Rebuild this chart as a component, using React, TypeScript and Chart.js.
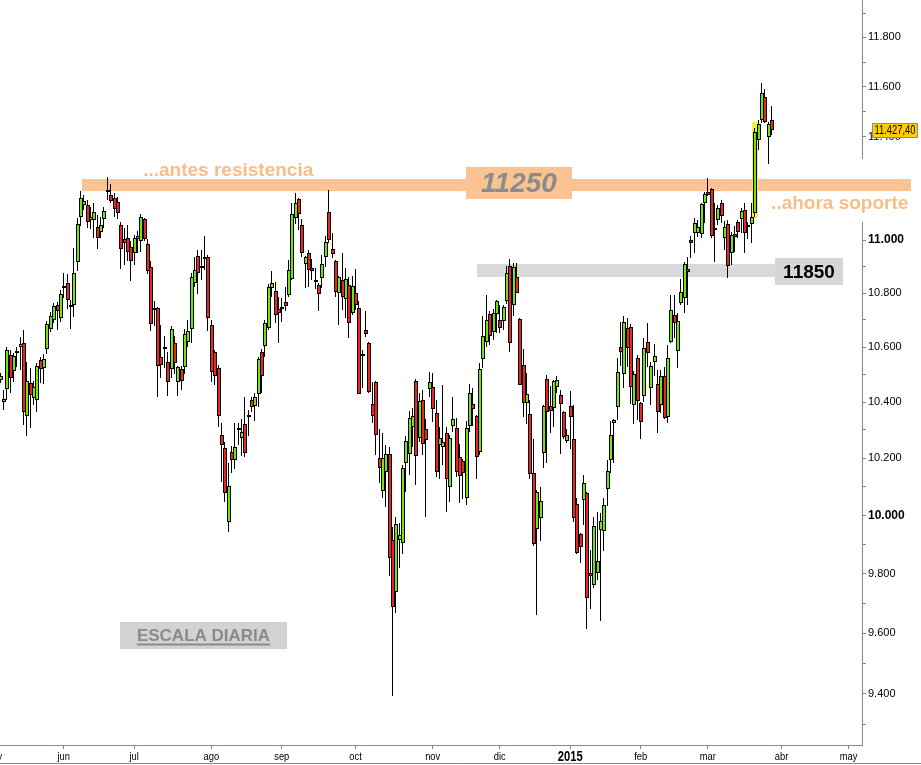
import React, { useEffect, useRef } from 'react';
import { Chart, registerables } from 'chart.js';

Chart.register(...registerables);

type OHLC = [number, number, number, number]; // open, high, low, close

// trading-day index of the first candle (index 0 = first session of June 2014)
const FIRST_INDEX = -19;

const may2014: OHLC[] = [
  [10480, 10506, 10469, 10495], [10401, 10444, 10372, 10412], [10447, 10601, 10408, 10590],
  [10572, 10590, 10433, 10488], [10513, 10579, 10473, 10568], [10581, 10601, 10528, 10585],
  [10601, 10637, 10517, 10611], [10615, 10663, 10318, 10365], [10350, 10546, 10279, 10476],
  [10469, 10524, 10307, 10426], [10415, 10476, 10390, 10455], [10408, 10542, 10365, 10531],
  [10553, 10564, 10469, 10520], [10524, 10575, 10466, 10557], [10593, 10696, 10575, 10685],
  [10667, 10730, 10656, 10715], [10700, 10764, 10689, 10752], [10756, 10767, 10663, 10733],
  [10707, 10812, 10693, 10797],
];
const jun2014: OHLC[] = [
  [10820, 10876, 10782, 10827], [10839, 10872, 10741, 10775], [10756, 10775, 10667, 10752],
  [10756, 10971, 10711, 10876], [10917, 11085, 10883, 11062], [11089, 11189, 11054, 11162],
  [11135, 11173, 11116, 11150], [11135, 11154, 11047, 11069], [11077, 11127, 11043, 11089],
  [11077, 11143, 11009, 11108], [11051, 11097, 10967, 11009], [11031, 11089, 11009, 11058],
  [11081, 11127, 11047, 11112], [11189, 11244, 11154, 11193], [11173, 11216, 11143, 11150],
  [11162, 11181, 11089, 11120], [11146, 11166, 11081, 11104], [11058, 11069, 10891, 10967],
  [11005, 11047, 10906, 10990], [11009, 11058, 10921, 10955], [10974, 10997, 10846, 10921],
];
const jul2014: OHLC[] = [
  [10952, 11020, 10906, 11009], [11005, 11035, 10952, 11016], [10997, 11100, 10955, 11089],
  [11081, 11085, 10997, 11005], [10986, 11005, 10872, 10883], [10898, 10921, 10659, 10685],
  [10740, 10771, 10678, 10744], [10745, 10747, 10419, 10531], [10564, 10681, 10488, 10535],
  [10601, 10641, 10524, 10598], [10546, 10583, 10422, 10473], [10520, 10678, 10488, 10667],
  [10615, 10641, 10502, 10542], [10473, 10530, 10422, 10528], [10520, 10531, 10444, 10476],
  [10528, 10667, 10502, 10648], [10619, 10700, 10601, 10659], [10667, 10876, 10615, 10861],
  [10839, 10936, 10823, 10887], [10940, 10963, 10797, 10876], [10902, 10963, 10850, 10899],
  [10929, 11016, 10887, 10936], [10936, 10944, 10659, 10707],
];
const ago2014: OHLC[] = [
  [10681, 10700, 10473, 10509], [10583, 10590, 10462, 10495], [10524, 10535, 10311, 10350],
  [10282, 10325, 10116, 10247], [10236, 10258, 10046, 10078], [9977, 10183, 9942, 10102],
  [10222, 10244, 10148, 10194], [10194, 10325, 10162, 10240], [10303, 10325, 10247, 10306],
  [10272, 10340, 10208, 10293], [10322, 10419, 10204, 10219], [10350, 10372, 10279, 10353],
  [10408, 10419, 10365, 10383], [10386, 10433, 10332, 10419], [10430, 10564, 10383, 10557],
  [10583, 10593, 10433, 10495], [10604, 10700, 10564, 10689], [10670, 10835, 10663, 10823],
  [10820, 10883, 10786, 10839], [10808, 10842, 10689, 10718], [10741, 10786, 10615, 10726],
];
const sep2014: OHLC[] = [
  [10745, 10782, 10693, 10748], [10767, 10823, 10733, 10752], [10793, 10925, 10786, 10887],
  [10853, 11143, 10850, 11100], [11085, 11181, 11062, 11143], [11158, 11162, 11039, 11100],
  [11058, 11081, 10936, 10952], [10910, 10938, 10820, 10936], [10952, 10963, 10823, 10887],
  [10895, 10929, 10850, 10883], [10850, 10895, 10816, 10842], [10831, 10839, 10733, 10797],
  [10857, 10944, 10820, 10910], [10936, 11016, 10898, 10993], [11108, 11193, 10990, 11001],
  [10967, 11028, 10933, 10948], [10921, 10923, 10786, 10805], [10801, 10865, 10681, 10861],
  [10850, 10952, 10737, 10786], [10778, 10895, 10707, 10853], [10831, 10861, 10633, 10689],
  [10726, 10865, 10718, 10827],
];
const oct2014: OHLC[] = [
  [10801, 10891, 10737, 10756], [10745, 10771, 10428, 10430], [10568, 10590, 10451, 10575],
  [10663, 10733, 10637, 10648], [10615, 10617, 10433, 10437], [10394, 10473, 10325, 10350],
  [10473, 10476, 10211, 10282], [10201, 10303, 10113, 10165], [10085, 10290, 10060, 10201],
  [10151, 10247, 10029, 10215], [10215, 10240, 9792, 9854], [9915, 9960, 9393, 9688],
  [9738, 9994, 9668, 9970], [9915, 9973, 9820, 9932], [9905, 10176, 9867, 10165],
  [10183, 10279, 10081, 10261], [10215, 10368, 10141, 10343], [10311, 10379, 10240, 10350],
  [10476, 10484, 10106, 10208], [10272, 10433, 10258, 10404], [10408, 10444, 10211, 10251],
  [10303, 10340, 9994, 10265], [10448, 10509, 10419, 10473],
];
const nov2014: OHLC[] = [
  [10455, 10506, 10329, 10376], [10361, 10408, 10134, 10151], [10247, 10311, 10127, 10272],
  [10240, 10462, 10176, 10258], [10290, 10311, 10012, 10127], [10099, 10282, 10046, 10272],
  [10315, 10419, 10293, 10340], [10307, 10343, 10134, 10151], [10204, 10251, 10043, 10137],
  [10190, 10197, 10056, 10148], [10060, 10332, 10036, 10307], [10315, 10466, 10293, 10433],
  [10394, 10451, 10315, 10376], [10350, 10354, 10127, 10204], [10222, 10542, 10211, 10520],
  [10557, 10715, 10524, 10641], [10619, 10793, 10601, 10700], [10722, 10733, 10608, 10641],
  [10656, 10741, 10626, 10726], [10722, 10775, 10652, 10771],
];
const dic2014: OHLC[] = [
  [10700, 10756, 10652, 10670], [10696, 10756, 10663, 10748], [10771, 10902, 10760, 10876],
  [10902, 10929, 10583, 10615], [10756, 10914, 10715, 10898], [10861, 10914, 10799, 10801],
  [10704, 10707, 10460, 10462], [10535, 10593, 10347, 10397], [10397, 10506, 10322, 10430],
  [10358, 10408, 10127, 10144], [10148, 10268, 9894, 9901], [9953, 10088, 9661, 10081],
  [9991, 10099, 9912, 10050], [10219, 10390, 10165, 10386], [10484, 10499, 10183, 10365],
  [10386, 10459, 10290, 10368], [10379, 10480, 10311, 10476], [10455, 10495, 10433, 10480],
  [10426, 10444, 10215, 10394], [10365, 10367, 10268, 10275], [10261, 10303, 10254, 10282],
];
const ene2015: OHLC[] = [
  [10386, 10440, 10233, 10347], [10268, 10390, 9977, 9991], [10039, 10060, 9868, 9870],
  [9935, 9939, 9837, 9891], [10053, 10141, 9966, 10113], [10078, 10080, 9614, 9718],
  [9803, 9881, 9681, 9792], [9762, 9994, 9752, 9963], [9803, 10012, 9779, 9844],
  [9949, 10008, 9641, 9980], [9946, 10060, 9877, 10036], [10092, 10194, 10032, 10155],
  [10194, 10332, 10148, 10282], [10325, 10340, 10183, 10336], [10383, 10560, 10336, 10509],
  [10601, 10693, 10531, 10583], [10502, 10715, 10451, 10693], [10670, 10707, 10528, 10597],
  [10674, 10685, 10394, 10455], [10390, 10513, 10322, 10502], [10560, 10572, 10336, 10404],
];
const feb2015: OHLC[] = [
  [10397, 10401, 10268, 10329], [10422, 10633, 10401, 10597], [10619, 10689, 10528, 10579],
  [10451, 10546, 10390, 10531], [10546, 10611, 10495, 10568], [10466, 10517, 10290, 10365],
  [10390, 10517, 10361, 10495], [10495, 10528, 10340, 10343], [10347, 10608, 10325, 10560],
  [10619, 10793, 10615, 10737], [10718, 10793, 10633, 10689], [10586, 10726, 10524, 10696],
  [10764, 10853, 10756, 10805], [10782, 10917, 10726, 10910], [10891, 10936, 10756, 10880],
  [11001, 11016, 10933, 10990], [11028, 11085, 10952, 11066], [11028, 11077, 11012, 11051],
  [11024, 11143, 11009, 11139], [11143, 11185, 11066, 11177],
];
const mar2015: OHLC[] = [
  [11185, 11240, 11171, 11173], [11197, 11201, 11009, 11016], [11047, 11143, 10917, 11045],
  [11077, 11135, 11058, 11123], [11143, 11154, 11066, 11093], [11009, 11073, 10963, 11051],
  [11062, 11077, 10857, 10902], [10952, 11031, 10906, 11020], [11024, 11054, 10955, 11012],
  [11069, 11077, 11009, 11031], [11081, 11123, 11028, 11112], [11116, 11143, 10952, 11028],
  [11058, 11069, 11005, 11051], [11062, 11143, 10990, 11089], [11104, 11436, 11089, 11420],
  [11389, 11468, 11349, 11452], [11468, 11616, 11456, 11575], [11559, 11591, 11456, 11460],
  [11401, 11460, 11294, 11452], [11468, 11523, 11409, 11427.4],
];

// month ticks on the trading-day axis
const monthTickIndex = [-21, 0, 21, 44, 65, 87, 110, 130, 151, 172, 192, 214, 234];
const monthTickLabels = ['may', 'jun', 'jul', 'ago', 'sep', 'oct', 'nov', 'dic', '2015', 'feb', 'mar', 'abr', 'may'];

// price axis ticks
const yTickValues = [9300, 9400, 9500, 9600, 9700, 9800, 9900, 10000, 10100, 10200, 10300, 10400, 10500,
  10600, 10700, 10800, 10900, 11000, 11100, 11200, 11300, 11400, 11500, 11600, 11700, 11800, 11900];
const yLabelValues = [9400, 9600, 9800, 10000, 10200, 10400, 10600, 10800, 11000, 11200, 11400, 11600, 11800];

const X_MIN = -19;
const X_MAX = 238;
const Y_MIN = 9235;
const Y_MAX = 11954;

// annotations (trading-day index / price)
const resistanceBand = { from: 5.5, to: 252.6, low: 11189, high: 11236 };
const supportBand = { from: 123.2, to: 232.3, low: 10861, high: 10910 };
const axisGap = { low: 11070, high: 11313 };
const breakoutHighlight = { from: 205.1, to: 206.9, low: 11085, high: 11460 };
const labelResistance = { text: '...antes resistencia', index: 23.7, value: 11248 };
const labelSupport = { text: '..ahora soporte', index: 210.9, value: 11118 };
const box11250 = { text: '11250', from: 120, to: 151.5, low: 11158, high: 11283 };
const box11850 = { text: '11850', from: 212, to: 232.3, low: 10831, high: 10933 };
const boxScale = { text: 'ESCALA DIARIA', from: 16.8, to: 66.6, low: 9547, high: 9637 };
const lastPriceText = '11.427,40';

const candles: OHLC[] = [
  ...may2014, ...jun2014, ...jul2014, ...ago2014, ...sep2014, ...oct2014,
  ...nov2014, ...dic2014, ...ene2015, ...feb2015, ...mar2015,
];

const FONT = '"Liberation Sans", Arial, Helvetica, sans-serif';
const AXIS = '#7b8a98';
const ORANGE = '#fbc292';
const ORANGE_TEXT = '#f9bd88';
const GREEN = '#72e60c';
const RED = '#ec2424';

const fmtThousands = (v: number) => {
  const t = Math.floor(v / 1000);
  const r = Math.round(v % 1000);
  return `${t}.${String(r).padStart(3, '0')}`;
};

function drawCondensed(ctx: CanvasRenderingContext2D, text: string, cx: number, cy: number, font: string, sx: number, color: string) {
  ctx.save();
  ctx.font = font;
  ctx.fillStyle = color;
  ctx.translate(cx, cy);
  ctx.scale(sx, 1);
  ctx.textAlign = 'center';
  ctx.textBaseline = 'middle';
  ctx.fillText(text, 0, 0);
  ctx.restore();
}

const notesPlugin = {
  id: 'chartNotes',
  // snap the candle elements computed by the scales onto whole pixels
  afterDatasetsUpdate(chart: any) {
    chart.data.datasets.forEach((_ds: any, di: number) => {
      const meta = chart.getDatasetMeta(di);
      const isBody = di === 1;
      meta.data.forEach((el: any) => {
        el.x = isBody ? Math.floor(el.x) + 1 : Math.floor(el.x) + 0.5;
        const top = Math.round(Math.min(el.y, el.base));
        let bot = Math.round(Math.max(el.y, el.base));
        if (bot - top < 2) bot = top + 2;
        el.y = top;
        el.base = bot;
      });
    });
  },
  beforeDatasetsDraw(chart: any) {
    const { ctx, chartArea } = chart;
    const x = chart.scales.x;
    const y = chart.scales.y;
    ctx.save();
    const gt = y.getPixelForValue(axisGap.high);
    const gb = y.getPixelForValue(axisGap.low);
    ctx.fillStyle = '#ffffff';
    ctx.fillRect(chartArea.right - 2, gt, chart.width - chartArea.right + 2, gb - gt);
    const band = (b: { from: number; to: number; low: number; high: number }, color: string) => {
      const x1 = Math.round(x.getPixelForValue(b.from));
      const x2 = Math.round(x.getPixelForValue(b.to));
      const y1 = Math.round(y.getPixelForValue(b.high));
      const y2 = Math.round(y.getPixelForValue(b.low));
      ctx.fillStyle = color;
      ctx.fillRect(x1, y1, x2 - x1, y2 - y1);
    };
    band(resistanceBand, ORANGE);
    band(supportBand, '#d9d9d9');
    band(breakoutHighlight, '#f5f046');
    ctx.restore();
  },
  afterDatasetsDraw(chart: any) {
    const { ctx } = chart;
    const x = chart.scales.x;
    const y = chart.scales.y;
    ctx.save();
    ctx.textAlign = 'left';
    ctx.textBaseline = 'alphabetic';
    ctx.font = `bold 19px ${FONT}`;
    ctx.fillStyle = ORANGE_TEXT;
    ctx.fillText(labelResistance.text, x.getPixelForValue(labelResistance.index), y.getPixelForValue(labelResistance.value));
    ctx.fillText(labelSupport.text, x.getPixelForValue(labelSupport.index), y.getPixelForValue(labelSupport.value));

    const box = (b: { text: string; from: number; to: number; low: number; high: number }, fill: string, font: string, color: string, underline: boolean) => {
      const x1 = Math.round(x.getPixelForValue(b.from));
      const x2 = Math.round(x.getPixelForValue(b.to));
      const y1 = Math.round(y.getPixelForValue(b.high));
      const y2 = Math.round(y.getPixelForValue(b.low));
      ctx.fillStyle = fill;
      ctx.fillRect(x1, y1, x2 - x1, y2 - y1);
      ctx.font = font;
      ctx.fillStyle = color;
      ctx.textAlign = 'center';
      ctx.textBaseline = 'middle';
      const cx = (x1 + x2) / 2;
      const cy = (y1 + y2) / 2 + 1;
      ctx.fillText(b.text, cx, cy);
      if (underline) {
        const w = ctx.measureText(b.text).width;
        ctx.fillRect(cx - w / 2, cy + 7, w, 2);
      }
    };
    box(box11250, ORANGE, `italic bold 28px ${FONT}`, '#8c8c8c', false);
    box(box11850, '#d6d6d6', `bold 19px ${FONT}`, '#000000', false);
    box(boxScale, '#d2d2d2', `bold 17px ${FONT}`, '#8a8a8a', true);
    ctx.restore();
  },
  afterDraw(chart: any) {
    const { ctx, chartArea } = chart;
    const x = chart.scales.x;
    const y = chart.scales.y;
    ctx.save();
    monthTickIndex.forEach((idx, i) => {
      const px = x.getPixelForValue(idx);
      const lab = monthTickLabels[i];
      const isYear = /^\d+$/.test(lab);
      drawCondensed(ctx, lab, px, chartArea.bottom + 12,
        isYear ? `bold 14px ${FONT}` : `11px ${FONT}`, isYear ? 0.8 : 0.85, '#000000');
    });
    const last = candles[candles.length - 1][3];
    const py = Math.round(y.getPixelForValue(last));
    const bx = Math.round(chartArea.right + 10);
    const bw = chart.width - 3 - bx;
    ctx.fillStyle = '#ffcc00';
    ctx.fillRect(bx, py - 7, bw, 15);
    ctx.strokeStyle = '#8a8a8a';
    ctx.lineWidth = 1;
    ctx.strokeRect(bx + 0.5, py - 6.5, bw - 1, 14);
    drawCondensed(ctx, lastPriceText, bx + bw / 2, py + 1, `12px ${FONT}`, 0.78, '#000000');
    ctx.strokeStyle = AXIS;
    ctx.beginPath();
    ctx.moveTo(0, chart.height - 1.5);
    ctx.lineTo(chart.width, chart.height - 1.5);
    ctx.stroke();
    ctx.restore();
  },
};

export default function App() {
  const ref = useRef<HTMLCanvasElement | null>(null);

  useEffect(() => {
    const canvas = ref.current;
    if (!canvas) return;
    const wicks = candles.map((c, i) => ({ x: FIRST_INDEX + i, y: [c[2], c[1]] }));
    const bodies = candles.map((c, i) => ({ x: FIRST_INDEX + i, y: [Math.min(c[0], c[3]), Math.max(c[0], c[3])] }));
    const colors = candles.map((c) => (c[3] >= c[0] ? GREEN : RED));

    const chart = new Chart(canvas, {
      type: 'bar',
      data: {
        datasets: [
          {
            label: 'wick',
            data: wicks as any,
            backgroundColor: '#000000',
            borderWidth: 0,
            barThickness: 1,
            grouped: false,
            order: 2,
            inflateAmount: 0,
          } as any,
          {
            label: 'body',
            data: bodies as any,
            backgroundColor: colors,
            borderColor: '#000000',
            borderWidth: 1,
            borderSkipped: false,
            barThickness: 4,
            grouped: false,
            order: 1,
            inflateAmount: 0,
          } as any,
        ],
      },
      options: {
        animation: false,
        responsive: false,
        maintainAspectRatio: false,
        layout: { padding: 0 },
        plugins: {
          legend: { display: false },
          tooltip: { enabled: false },
        },
        scales: {
          x: {
            type: 'linear',
            min: X_MIN,
            max: X_MAX,
            offset: false,
            grid: { display: true, offset: false, drawOnChartArea: false, drawTicks: true, tickLength: 4, color: AXIS },
            border: { display: true, color: AXIS, width: 1 },
            ticks: { display: false, autoSkip: false },
            afterBuildTicks: (s: any) => {
              s.ticks = monthTickIndex.map((v) => ({ value: v }));
            },
            afterFit: (s: any) => {
              s.height = 20;
              s.paddingLeft = 0;
              s.paddingRight = 0;
            },
          },
          y: {
            type: 'logarithmic',
            position: 'right',
            min: Y_MIN,
            max: Y_MAX,
            grid: { display: true, drawOnChartArea: false, drawTicks: true, tickLength: 4, color: AXIS },
            border: { display: true, color: AXIS, width: 1 },
            ticks: {
              autoSkip: false,
              padding: 2,
              color: '#000000',
              font: (c: any) => {
                const v = c && c.tick ? c.tick.value : 0;
                const major = v % 1000 === 0;
                return { family: FONT, size: major ? 12 : 11, weight: major ? 'bold' : 'normal' };
              },
              callback: (v: any) => (yLabelValues.includes(Number(v)) ? fmtThousands(Number(v)) : ''),
            },
            afterBuildTicks: (s: any) => {
              s.ticks = yTickValues.map((v) => ({ value: v }));
            },
            afterFit: (s: any) => {
              s.width = 59;
              s.paddingTop = 0;
              s.paddingBottom = 0;
            },
          },
        },
      } as any,
      plugins: [notesPlugin as any],
    });
    return () => chart.destroy();
  }, []);

  return (
    <div style={{ position: 'fixed', left: 0, top: 0, width: 921, height: 765, background: '#ffffff' }}>
      <canvas ref={ref} width={921} height={765} style={{ display: 'block', width: 921, height: 765 }} />
    </div>
  );
}
